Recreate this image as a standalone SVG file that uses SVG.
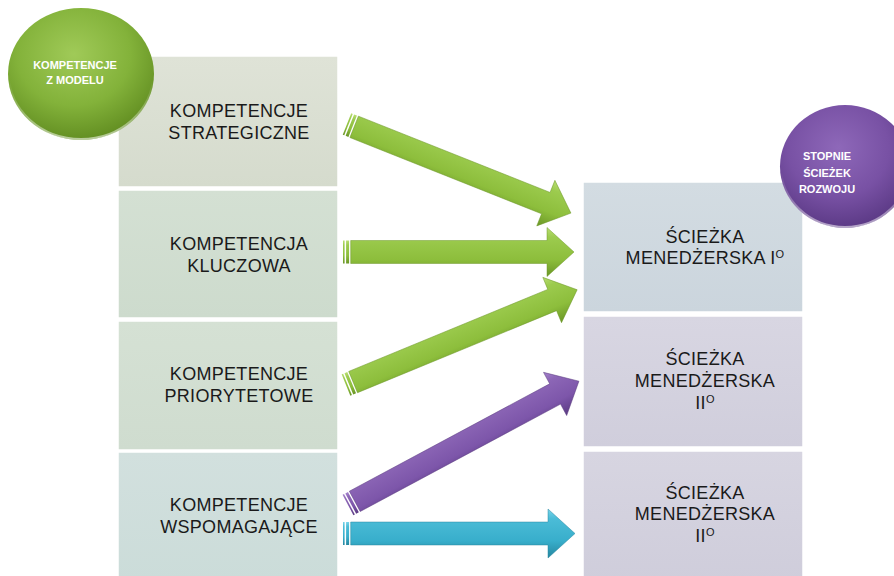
<svg xmlns="http://www.w3.org/2000/svg" width="894" height="576" viewBox="0 0 894 576">
  <defs>
    <style>
      .box { stroke: #ffffff; stroke-width: 1.5; }
      .lbl { font-family: "Liberation Sans", Arial, sans-serif; font-size: 18px; fill: #1a1a1a; text-anchor: middle; letter-spacing: 0.3px; }
      .sup { font-size: 11px; }
      .badge { font-family: "Liberation Sans", Arial, sans-serif; font-weight: bold; font-size: 11px; fill: #ffffff; text-anchor: middle; }
      .stroke-g { stroke: #6b9626; stroke-width: 0.8; stroke-opacity: 0.6; }
      .stroke-p { stroke: #5a3a80; stroke-width: 0.8; stroke-opacity: 0.6; }
      .stroke-b { stroke: #25859f; stroke-width: 0.8; stroke-opacity: 0.6; }
    </style>
    <linearGradient id="gL1" x1="0" y1="0" x2="0" y2="1"><stop offset="0" stop-color="#dfe3d7"/><stop offset="1" stop-color="#d5dbcd"/></linearGradient>
    <linearGradient id="gL2" x1="0" y1="0" x2="0" y2="1"><stop offset="0" stop-color="#d4e0d3"/><stop offset="1" stop-color="#cddbcd"/></linearGradient>
    <linearGradient id="gL3" x1="0" y1="0" x2="0" y2="1"><stop offset="0" stop-color="#d5e1d4"/><stop offset="1" stop-color="#cfdccf"/></linearGradient>
    <linearGradient id="gL4" x1="0" y1="0" x2="0" y2="1"><stop offset="0" stop-color="#d2e0de"/><stop offset="1" stop-color="#cbdcd9"/></linearGradient>
    <linearGradient id="gR1" x1="0" y1="0" x2="0" y2="1"><stop offset="0" stop-color="#d3dce2"/><stop offset="1" stop-color="#cbd5dd"/></linearGradient>
    <linearGradient id="gR2" x1="0" y1="0" x2="0" y2="1"><stop offset="0" stop-color="#d8d6e2"/><stop offset="1" stop-color="#d0cedc"/></linearGradient>
    <linearGradient id="gR3" x1="0" y1="0" x2="0" y2="1"><stop offset="0" stop-color="#d7d5e1"/><stop offset="1" stop-color="#cfcddb"/></linearGradient>

    <linearGradient id="arrowGreen" x1="0" y1="0" x2="0" y2="1">
      <stop offset="0" stop-color="#b9de72"/>
      <stop offset="0.2" stop-color="#9ccb4e"/>
      <stop offset="0.65" stop-color="#8dbe3c"/>
      <stop offset="1" stop-color="#6a9626"/>
    </linearGradient>
    <linearGradient id="arrowPurple" x1="0" y1="0" x2="0" y2="1">
      <stop offset="0" stop-color="#a584cc"/>
      <stop offset="0.2" stop-color="#8c66b6"/>
      <stop offset="0.65" stop-color="#7d56aa"/>
      <stop offset="1" stop-color="#5a3a82"/>
    </linearGradient>
    <linearGradient id="arrowBlue" x1="0" y1="0" x2="0" y2="1">
      <stop offset="0" stop-color="#78d4ea"/>
      <stop offset="0.2" stop-color="#4bbcd7"/>
      <stop offset="0.65" stop-color="#38aecb"/>
      <stop offset="1" stop-color="#25869f"/>
    </linearGradient>

    <radialGradient id="ballGreen" cx="0.45" cy="0.35" r="0.65">
      <stop offset="0" stop-color="#a0ca58"/>
      <stop offset="0.6" stop-color="#83b23a"/>
      <stop offset="1" stop-color="#638f22"/>
    </radialGradient>
    <radialGradient id="ballPurple" cx="0.45" cy="0.35" r="0.65">
      <stop offset="0" stop-color="#8e68b9"/>
      <stop offset="0.6" stop-color="#7851a4"/>
      <stop offset="1" stop-color="#5c3a86"/>
    </radialGradient>
    <linearGradient id="rim" x1="0" y1="0" x2="0" y2="1">
      <stop offset="0.55" stop-color="#ffffff" stop-opacity="0"/>
      <stop offset="1" stop-color="#ffffff" stop-opacity="0.55"/>
    </linearGradient>
  </defs>

  <rect x="0" y="0" width="894" height="576" fill="#ffffff"/>

  <!-- left column: competences -->
  <g id="komp-strategiczne">
    <rect class="box" x="118" y="56" width="220" height="131" fill="url(#gL1)"/>
    <text class="lbl" x="239" y="117">KOMPETENCJE</text>
    <text class="lbl" x="239" y="139">STRATEGICZNE</text>
  </g>
  <g id="komp-kluczowa">
    <rect class="box" x="118" y="190" width="220" height="128" fill="url(#gL2)"/>
    <text class="lbl" x="239" y="250">KOMPETENCJA</text>
    <text class="lbl" x="239" y="272">KLUCZOWA</text>
  </g>
  <g id="komp-priorytetowe">
    <rect class="box" x="118" y="321" width="220" height="129" fill="url(#gL3)"/>
    <text class="lbl" x="239" y="380">KOMPETENCJE</text>
    <text class="lbl" x="239" y="402">PRIORYTETOWE</text>
  </g>
  <g id="komp-wspomagajace">
    <rect class="box" x="118" y="452" width="220" height="130" fill="url(#gL4)"/>
    <text class="lbl" x="239" y="511">KOMPETENCJE</text>
    <text class="lbl" x="239" y="533">WSPOMAGAJĄCE</text>
  </g>

  <!-- right column: career path levels -->
  <g id="sciezka-1">
    <rect class="box" x="583" y="182" width="220" height="130" fill="url(#gR1)"/>
    <text class="lbl" x="705" y="243">ŚCIEŻKA</text>
    <text class="lbl" x="705" y="264">MENEDŻERSKA I<tspan class="sup" dy="-6">O</tspan></text>
  </g>
  <g id="sciezka-2a">
    <rect class="box" x="583" y="316" width="220" height="131" fill="url(#gR2)"/>
    <text class="lbl" x="705" y="365">ŚCIEŻKA</text>
    <text class="lbl" x="705" y="387">MENEDŻERSKA</text>
    <text class="lbl" x="705" y="409">II<tspan class="sup" dy="-6">O</tspan></text>
  </g>
  <g id="sciezka-2b">
    <rect class="box" x="583" y="451" width="220" height="131" fill="url(#gR3)"/>
    <text class="lbl" x="705" y="499">ŚCIEŻKA</text>
    <text class="lbl" x="705" y="520">MENEDŻERSKA</text>
    <text class="lbl" x="705" y="542">II<tspan class="sup" dy="-6">O</tspan></text>
  </g>

  <!-- header badges -->
  <g id="badge-model">
    <ellipse cx="81" cy="74" rx="73" ry="66" fill="url(#ballGreen)"/>
    <ellipse cx="81" cy="74" rx="72" ry="65" fill="none" stroke="url(#rim)" stroke-width="2"/>
    <text class="badge" x="75" y="69">KOMPETENCJE</text>
    <text class="badge" x="75" y="84">Z MODELU</text>
  </g>
  <g id="badge-stopnie">
    <ellipse cx="845" cy="166.5" rx="65" ry="61.5" fill="url(#ballPurple)"/>
    <ellipse cx="845" cy="166.5" rx="64" ry="60.5" fill="none" stroke="url(#rim)" stroke-width="2"/>
    <text class="badge" x="827" y="160">STOPNIE</text>
    <text class="badge" x="827" y="177">ŚCIEŻEK</text>
    <text class="badge" x="827" y="193">ROZWOJU</text>
  </g>

  <!-- striped arrows, drawn along +x then placed -->
  <g id="connectors">
    <g transform="translate(347,124) rotate(21.7)">
      <rect x="0" y="-11.5" width="1.6" height="23" fill="url(#arrowGreen)"/>
      <rect x="3.1" y="-11.5" width="3" height="23" fill="url(#arrowGreen)"/>
      <path class="stroke-g" d="M7.7,-11.5 H214 V-24.5 L241,0 L214,24.5 V11.5 H7.7 Z" fill="url(#arrowGreen)"/>
    </g>
    <g transform="translate(343,252)">
      <rect x="0" y="-11.5" width="1.6" height="23" fill="url(#arrowGreen)"/>
      <rect x="3.1" y="-11.5" width="3" height="23" fill="url(#arrowGreen)"/>
      <path class="stroke-g" d="M7.7,-11.5 H204 V-24.5 L231,0 L204,24.5 V11.5 H7.7 Z" fill="url(#arrowGreen)"/>
    </g>
    <g transform="translate(346,385) rotate(-22.4)">
      <rect x="0" y="-11.5" width="1.6" height="23" fill="url(#arrowGreen)"/>
      <rect x="3.1" y="-11.5" width="3" height="23" fill="url(#arrowGreen)"/>
      <path class="stroke-g" d="M7.7,-11.5 H223 V-24.5 L250,0 L223,24.5 V11.5 H7.7 Z" fill="url(#arrowGreen)"/>
    </g>
    <g transform="translate(348,505) rotate(-28.2)">
      <rect x="0" y="-11.5" width="1.6" height="23" fill="url(#arrowPurple)"/>
      <rect x="3.1" y="-11.5" width="3" height="23" fill="url(#arrowPurple)"/>
      <path class="stroke-p" d="M7.7,-11.5 H235 V-24.5 L262,0 L235,24.5 V11.5 H7.7 Z" fill="url(#arrowPurple)"/>
    </g>
    <g transform="translate(343,533.5)">
      <rect x="0" y="-11.5" width="1.6" height="23" fill="url(#arrowBlue)"/>
      <rect x="3.1" y="-11.5" width="3" height="23" fill="url(#arrowBlue)"/>
      <path class="stroke-b" d="M7.7,-11.5 H205 V-24.5 L232,0 L205,24.5 V11.5 H7.7 Z" fill="url(#arrowBlue)"/>
    </g>
  </g>
</svg>
